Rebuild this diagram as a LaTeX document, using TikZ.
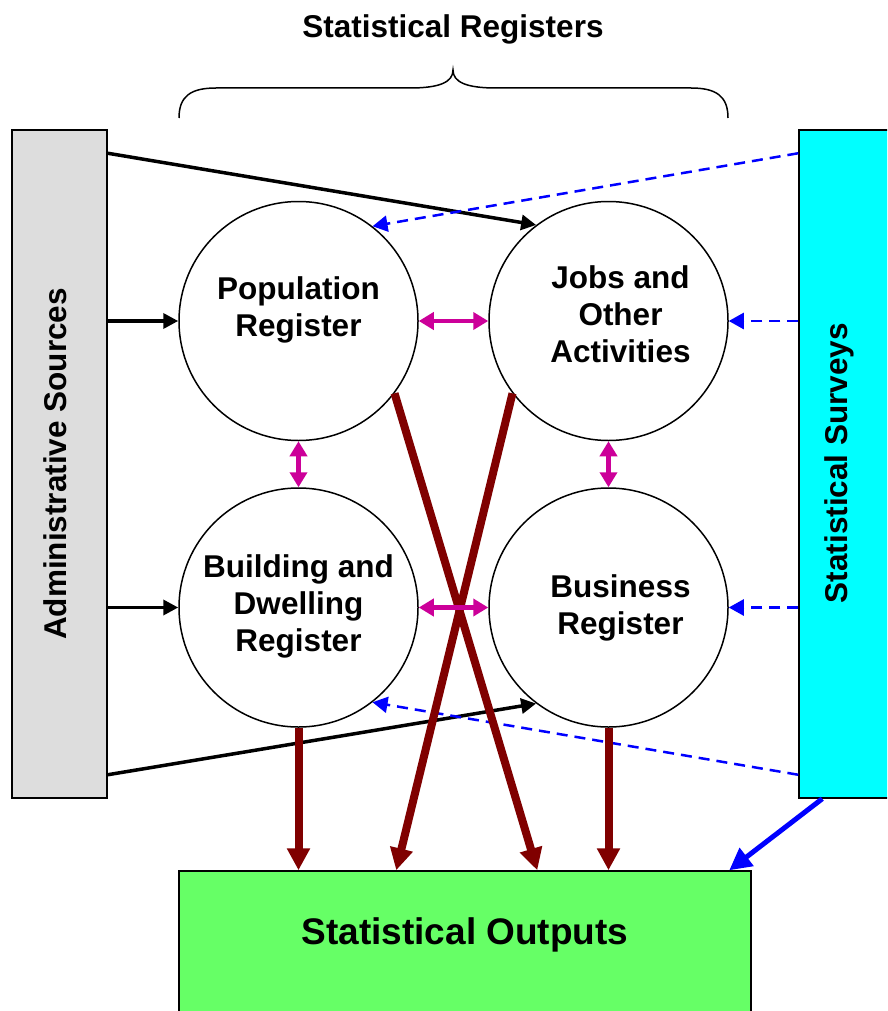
\documentclass[tikz,border=0pt]{standalone}
\usepackage{fontspec}
\setmainfont{Liberation Sans}
\usetikzlibrary{arrows.meta}
\definecolor{admgray}{HTML}{DDDDDD}
\definecolor{surcyan}{HTML}{00FFFF}
\definecolor{outgreen}{HTML}{66FF66}
\definecolor{regred}{HTML}{800000}
\definecolor{linkmag}{HTML}{CC0099}
\definecolor{survblue}{HTML}{0000FF}
\begin{document}
\begin{tikzpicture}[x=1pt,y=-1pt,
  font=\fontsize{31.5}{37}\selectfont\bfseries,
  reg/.style={circle,draw,line width=1.5pt,minimum size=239pt,inner sep=0pt,fill=white},
  regtext/.style={align=center,inner sep=0pt},
  sidebox/.style={rectangle,draw,line width=1.5pt,inner sep=0pt},
  srcarrow/.style={line width=3.5pt,-{Triangle[length=15pt,width=15pt]}},
  survdash/.style={survblue,line width=2.5pt,dash pattern=on 11pt off 7pt,-{Triangle[length=15pt,width=16pt]}},
  linkarrow/.style={linkmag,line width=4.5pt,{Triangle[length=15pt,width=17pt]}-{Triangle[length=15pt,width=17pt]}},
  outarrow/.style={regred,line width=8pt,-{Triangle[length=22pt,width=22pt]}},
  survout/.style={survblue,line width=5pt,-{Triangle[length=22pt,width=22pt]}}]
\useasboundingbox (0,0) rectangle (887,1011);
\clip (0,0) rectangle (887,1011);
\fill[white] (0,0) rectangle (887,1011);

% title and brace
\node (title) at (453,29) {Statistical Registers};
\draw[line width=1.5pt] (179,118) .. controls (179,96) and (191,88) .. (216,88) -- (410,88)
  .. controls (440,88) and (453,82) .. (453,70)
  .. controls (453,82) and (466,88) .. (496,88) -- (691,88)
  .. controls (716,88) and (728,96) .. (728,118);

% side boxes
\node[sidebox,fill=admgray,minimum width=95pt,minimum height=668pt] (adm) at (59.5,464) {};
\node[rotate=90] (admtext) at (55,464) {Administrative Sources};
\node[sidebox,fill=surcyan,minimum width=110pt,minimum height=668pt] (sur) at (854,464) {};
\node[rotate=90] (surtext) at (839,463) {Statistical Surveys};

% output box
\node[sidebox,fill=outgreen,minimum width=572pt,minimum height=170pt] (out) at (465,956) {};
\node[font=\fontsize{37}{44}\selectfont\bfseries] (outtext) at (465,935) {Statistical Outputs};

% registers
\node[reg,label={[regtext,yshift=11pt]center:Population\\Register}] (pop) at (298.5,321) {};
\node[reg,label={[regtext,xshift=12pt,yshift=7pt]center:Jobs and\\Other\\Activities}] (jobs) at (608.5,321) {};
\node[reg,label={[regtext,yshift=1pt]center:Building and\\Dwelling\\Register}] (bld) at (298.5,607.5) {};
\node[reg,label={[regtext,xshift=12pt,yshift=0pt]center:Business\\Register}] (bus) at (608.5,607.5) {};

% administrative sources
\draw[srcarrow] ([yshift=-24pt]adm.north east) -- (jobs.127);
\draw[srcarrow] (adm.east |- pop.west) -- (pop.west);
\draw[srcarrow] (adm.east |- bld.west) -- (bld.west);
\draw[srcarrow] ([yshift=24pt]adm.south east) -- (bus.233);

% statistical surveys
\draw[survdash] ([yshift=-24pt]sur.north west) -- (pop.52);
\draw[survdash] (sur.west |- jobs.east) -- (jobs.east);
\draw[survdash] (sur.west |- bus.east) -- (bus.east);
\draw[survdash] ([yshift=24pt]sur.south west) -- (bld.-52);

% links between registers
\draw[linkarrow] (pop.east) -- (jobs.west);
\draw[linkarrow] (pop.south) -- (bld.north);
\draw[linkarrow] (jobs.south) -- (bus.north);

% outputs
\draw[outarrow] (bld.south) -- (bld.south |- out.north);
\draw[outarrow] (bus.south) -- (bus.south |- out.north);
\draw[outarrow] (pop.-37) -- ([xshift=359pt]out.north west);
\draw[outarrow] (jobs.-143) -- ([xshift=218pt]out.north west);
\draw[linkarrow] (bld.east) -- (bus.west);
\draw[survout] ([xshift=24pt]sur.south west) -- ([xshift=551pt]out.north west);
\end{tikzpicture}
\end{document}
